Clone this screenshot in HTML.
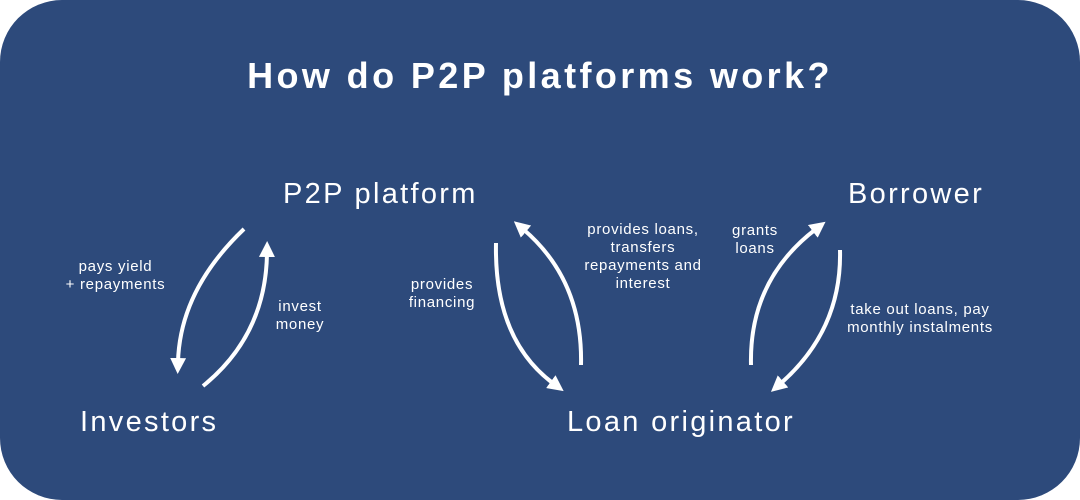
<!DOCTYPE html>
<html><head><style>
html,body{margin:0;padding:0;background:#fff;}
.c{position:relative;width:1080px;height:500px;background:#2d4a7b;border-radius:62px;overflow:hidden;font-family:"Liberation Sans",sans-serif;color:#fff;}
.t{position:absolute;white-space:nowrap;}
.s{font-size:15px;line-height:18px;text-align:center;letter-spacing:0.7px;}
.n{font-size:29px;letter-spacing:2.3px;}
</style></head><body>
<div class="c">
<div class="t" style="left:0;width:1080px;text-align:center;top:55px;font-size:36px;font-weight:bold;letter-spacing:3.4px;">How do P2P platforms work?</div>
<div class="t n" style="left:283px;top:178px;">P2P platform</div>
<div class="t n" style="left:848px;top:178px;">Borrower</div>
<div class="t n" style="left:80px;top:406px;">Investors</div>
<div class="t n" style="left:567px;top:406px;">Loan originator</div>
<div class="t s" style="left:53px;width:125px;top:258px;">pays yield<br>+ repayments</div>
<div class="t s" style="left:255px;width:90px;top:298px;">invest<br>money</div>
<div class="t s" style="left:387px;width:110px;top:276px;">provides<br>financing</div>
<div class="t s" style="left:568px;width:150px;top:221px;">provides loans,<br>transfers<br>repayments and<br>interest</div>
<div class="t s" style="left:715px;width:80px;top:222px;">grants<br>loans</div>
<div class="t s" style="left:830px;width:180px;top:301px;">take out loans, pay<br>monthly instalments</div>
<svg width="1080" height="500" style="position:absolute;left:0;top:0">
<defs><marker id="a" markerWidth="4" markerHeight="4" refX="1" refY="2" orient="auto" markerUnits="strokeWidth"><path d="M0,0 L4,2 L0,4 Z" fill="#fff"/></marker></defs>
<g fill="none" stroke="#fff" stroke-width="4">
<path d="M244,229 Q180,290 178,362" marker-end="url(#a)"/>
<path d="M203,386 Q266,335 267,253" marker-end="url(#a)"/>
<path d="M496,243 Q494,340 554,384" marker-end="url(#a)"/>
<path d="M581,365 Q583,280 523,229" marker-end="url(#a)"/>
<path d="M751,365 Q749,280 816,229" marker-end="url(#a)"/>
<path d="M840,250 Q842,330 780,384" marker-end="url(#a)"/>
</g></svg>
</div>
</body></html>
